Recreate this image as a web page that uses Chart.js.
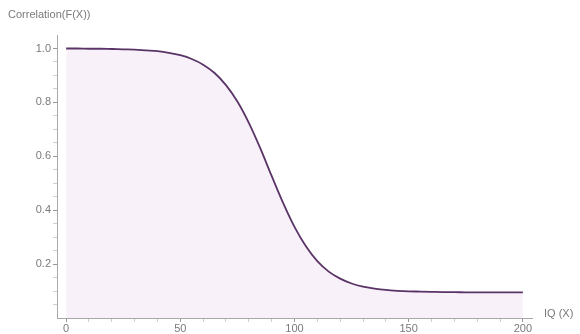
<!DOCTYPE html>
<html lang="en">
<head>
  <meta charset="utf-8">
  <title>Correlation vs IQ</title>
  <style>
    * { box-sizing: border-box; margin: 0; padding: 0; }
    html, body { width: 580px; height: 334px; background: #ffffff; overflow: hidden; }
    #wrap { position: relative; width: 580px; height: 334px; }
  </style>
  <script src="https://cdn.jsdelivr.net/npm/chart.js"></script>
</head>
<body>
  <div id="wrap"><canvas id="chart" width="580" height="334"></canvas></div>
  <script>
    // values
    const iq = [0, 5, 10, 15, 20, 25, 30, 35, 40, 45, 50, 55, 60, 65, 70, 75, 80, 85, 90, 95,
                100, 105, 110, 115, 120, 125, 130, 135, 140, 145, 150, 155, 160, 165, 170, 175, 180, 185, 190, 195, 200];
    const correlation = [1.000, 1.000, 0.999, 0.999, 0.998, 0.997, 0.996, 0.993, 0.990, 0.984,
                         0.975, 0.961, 0.940, 0.909, 0.864, 0.803, 0.724, 0.630, 0.527, 0.427,
                         0.338, 0.266, 0.211, 0.172, 0.146, 0.128, 0.116, 0.109, 0.104, 0.101,
                         0.099, 0.098, 0.097, 0.096, 0.096, 0.095, 0.095, 0.095, 0.095, 0.095, 0.095];
    const xLabels = [0, 50, 100, 150, 200];
    const xMinor = [0, 10, 20, 30, 40, 50, 60, 70, 80, 90, 100, 110, 120, 130, 140, 150, 160, 170, 180, 190, 200];
    const yLabels = [0.2, 0.4, 0.6, 0.8, 1.0];
    const yMinor = [0.05, 0.1, 0.15, 0.2, 0.25, 0.3, 0.35, 0.4, 0.45, 0.5, 0.55, 0.6, 0.65, 0.7, 0.75, 0.8, 0.85, 0.9, 0.95, 1.0];

    const axisGray = '#a8a8a8';
    const textGray = '#7a7a7a';
    const font = { family: '"Liberation Sans", Arial, sans-serif', size: 11 };

    // axis names, Mathematica style
    const axisNames = {
      id: 'axisNames',
      afterDraw(chart) {
        const ctx = chart.ctx;
        const area = chart.chartArea;
        ctx.save();
        ctx.fillStyle = textGray;
        ctx.font = '11px "Liberation Sans", Arial, sans-serif';
        ctx.textBaseline = 'middle';
        ctx.textAlign = 'left';
        ctx.fillText('Correlation(F(X))', 8, 15);
        ctx.fillText('IQ (X)', area.right + 12, area.bottom - 4);
        ctx.restore();
      }
    };

    const isLabel = (list, v) => list.some(l => Math.abs(l - v) < 1e-6);
    const points = iq.map((x, i) => ({ x: x, y: correlation[i] }));

    new Chart(document.getElementById('chart'), {
      type: 'line',
      data: {
        datasets: [{
          data: points,
          borderColor: '#5a3466',
          borderWidth: 1.8,
          backgroundColor: 'rgba(244, 232, 247, 0.6)',
          fill: 'origin',
          pointRadius: 0,
          cubicInterpolationMode: 'monotone'
        }]
      },
      options: {
        responsive: false,
        animation: false,
        layout: { padding: { top: 35, right: 48, left: 0, bottom: 0 } },
        plugins: { legend: { display: false }, tooltip: { enabled: false } },
        scales: {
          x: {
            type: 'linear',
            min: -4,
            max: 204,
            afterBuildTicks(scale) { scale.ticks = xMinor.map(v => ({ value: v })); },
            afterFit(scale) { scale.height = 16; },
            border: { color: axisGray, width: 1 },
            grid: {
              drawOnChartArea: false,
              tickLength: 4,
              tickColor: c => (c.tick && isLabel(xLabels, c.tick.value)) ? '#999' : '#cfcfcf'
            },
            ticks: {
              autoSkip: false,
              maxRotation: 0,
              padding: 0,
              color: textGray,
              font: font,
              callback: v => isLabel(xLabels, v) ? String(v) : ''
            }
          },
          y: {
            min: 0,
            max: 1.05,
            afterBuildTicks(scale) { scale.ticks = yMinor.map(v => ({ value: v })); },
            afterFit(scale) { scale.width = 57; },
            border: { color: axisGray, width: 1 },
            grid: {
              drawOnChartArea: false,
              tickLength: 4,
              tickColor: c => (c.tick && isLabel(yLabels, c.tick.value)) ? '#999' : '#cfcfcf'
            },
            ticks: {
              autoSkip: false,
              padding: 2,
              color: textGray,
              font: font,
              callback: v => isLabel(yLabels, v) ? v.toFixed(1) : ''
            }
          }
        }
      },
      plugins: [axisNames]
    });
  </script>
</body>
</html>
